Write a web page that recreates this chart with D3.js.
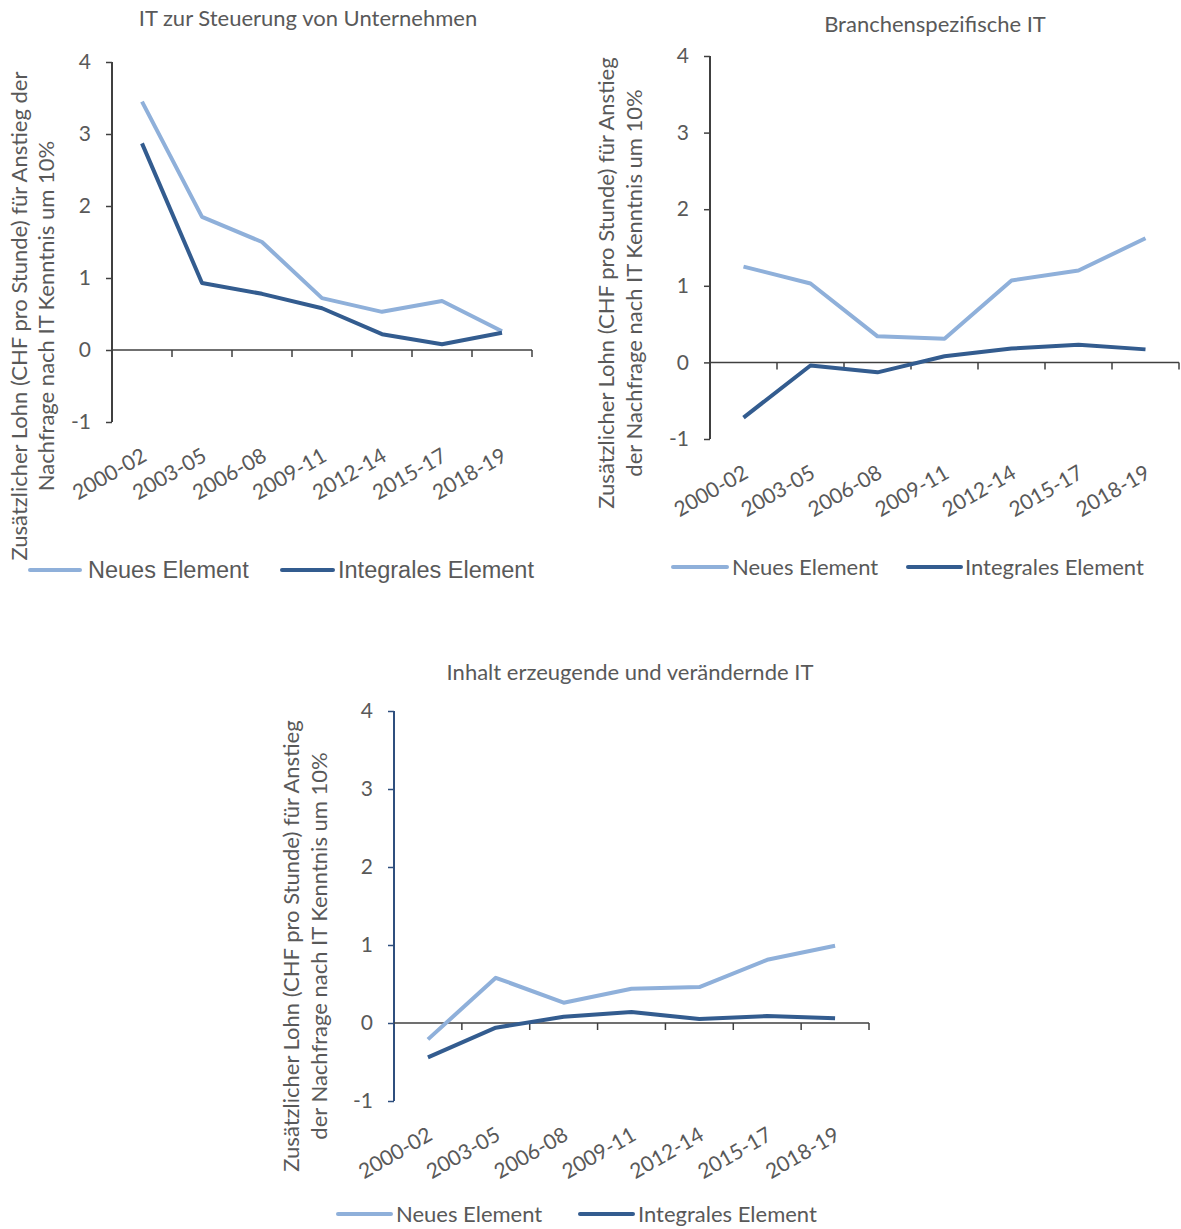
<!DOCTYPE html>
<html>
<head>
<meta charset="utf-8">
<script src="https://cdn.jsdelivr.net/npm/d3@7"></script>
<style>
  body { margin: 0; background: #fff; }
  svg { display: block; }
  text { fill: #595959; }
</style>
</head>
<body>
<svg id="chart" width="1181" height="1229"></svg>
<script>
// categories + series
var periods = ["2000-02", "2003-05", "2006-08", "2009-11", "2012-14", "2015-17", "2018-19"];
var yTicks = [-1, 0, 1, 2, 3, 4];
var seriesNames = ["Neues Element", "Integrales Element"];

var steuerungNeu = [3.45, 1.85, 1.50, 0.72, 0.53, 0.68, 0.26];
var steuerungIntegral = [2.87, 0.93, 0.78, 0.58, 0.22, 0.08, 0.24];

var branchenNeu = [1.25, 1.03, 0.34, 0.31, 1.07, 1.20, 1.62];
var branchenIntegral = [-0.72, -0.04, -0.13, 0.08, 0.18, 0.23, 0.17];

var inhaltNeu = [-0.21, 0.58, 0.26, 0.44, 0.46, 0.81, 0.99];
var inhaltIntegral = [-0.44, -0.06, 0.08, 0.14, 0.05, 0.09, 0.06];

var titles = ["IT zur Steuerung von Unternehmen", "Branchenspezifische IT", "Inhalt erzeugende und verändernde IT"];

var colLight = "#8fb0da", colDark = "#335c8f";
var svg = d3.select("#chart");

// layout for each panel
var panels = [
  { title: titles[0], neu: steuerungNeu, integral: steuerungIntegral,
    x0: 112, x1: 532, yTop: 62, yBot: 422, titleX: 308, titleY: 26,
    yTitle: ["Zusätzlicher Lohn (CHF pro Stunde) für Anstieg der", "Nachfrage nach IT Kenntnis um 10%"],
    yTitleX: [27, 54], yTitleY: 316, yAxisCol: "#404040",
    legend: { y: 570, items: [[30, 80, 88], [282, 333, 338]], font: "Liberation Sans", size: 23.5 } },
  { title: titles[1], neu: branchenNeu, integral: branchenIntegral,
    x0: 710, x1: 1179, yTop: 56, yBot: 439, titleX: 935, titleY: 32,
    yTitle: ["Zusätzlicher Lohn (CHF pro Stunde) für Anstieg", "der Nachfrage nach IT Kenntnis um 10%"],
    yTitleX: [614, 642], yTitleY: 283, yAxisCol: "#404040",
    legend: { y: 567, items: [[673, 727, 732], [908, 961, 965]], font: "Lato", size: 22 } },
  { title: titles[2], neu: inhaltNeu, integral: inhaltIntegral,
    x0: 394, x1: 869, yTop: 711, yBot: 1101, titleX: 630, titleY: 680,
    yTitle: ["Zusätzlicher Lohn (CHF pro Stunde) für Anstieg", "der Nachfrage nach IT Kenntnis um 10%"],
    yTitleX: [299, 327], yTitleY: 946, yAxisCol: "#2f4f7e",
    legend: { y: 1214, items: [[338, 391, 396], [580, 633, 638]], font: "Lato", size: 22 } }
];

panels.forEach(drawPanel);

function drawPanel(p) {
  var g = svg.append("g").style("font-family", "Lato");

  var x = d3.scaleBand().domain(periods).range([p.x0, p.x1]);
  var y = d3.scaleLinear().domain([-1, 4]).range([p.yBot, p.yTop]);
  var cx = function(d, i) { return x(periods[i]) + x.bandwidth() / 2; };

  // title
  g.append("text")
    .attr("x", p.titleX).attr("y", p.titleY)
    .attr("text-anchor", "middle")
    .style("font-size", "22px")
    .text(p.title);

  // y axis
  var yAxis = g.append("g")
    .attr("transform", "translate(" + p.x0 + ",0)")
    .call(d3.axisLeft(y).tickValues(yTicks).tickSize(6).tickPadding(15).tickFormat(function(d) { return String(d); }));
  yAxis.selectAll("path,line").attr("stroke", p.yAxisCol).attr("stroke-width", 1.5);
  yAxis.select(".domain").attr("d", "M0," + y(-1) + "V" + y(4)).attr("stroke-width", 2);
  yAxis.selectAll("text")
    .style("font-family", "Lato").style("font-size", "21px").attr("fill", "#595959");

  // x axis along zero line, ticks between categories
  var xg = g.append("g");
  xg.append("line")
    .attr("x1", p.x0).attr("x2", p.x1)
    .attr("y1", y(0)).attr("y2", y(0))
    .attr("stroke", "#404040").attr("stroke-width", 1.5);
  xg.selectAll(".tk").data(periods).enter().append("line")
    .attr("class", "tk")
    .attr("x1", function(d) { return x(d) + x.bandwidth(); })
    .attr("x2", function(d) { return x(d) + x.bandwidth(); })
    .attr("y1", y(0)).attr("y2", y(0) + 7)
    .attr("stroke", "#404040").attr("stroke-width", 1.5);

  // rotated category labels under the plot
  g.selectAll(".xl").data(periods).enter().append("text")
    .attr("class", "xl")
    .attr("text-anchor", "end")
    .attr("transform", function(d) {
      return "translate(" + (x(d) + x.bandwidth() / 2 + 6) + "," + (p.yBot + 38) + ") rotate(-30)";
    })
    .style("font-size", "21px")
    .text(function(d) { return d; });

  // y axis title, two lines
  p.yTitle.forEach(function(t, i) {
    g.append("text")
      .attr("transform", "translate(" + p.yTitleX[i] + "," + p.yTitleY + ") rotate(-90)")
      .attr("text-anchor", "middle")
      .style("font-size", "22px")
      .text(t);
  });

  // series lines
  var line = d3.line().x(cx).y(function(d) { return y(d); });
  [[p.neu, colLight], [p.integral, colDark]].forEach(function(s) {
    g.append("path")
      .datum(s[0])
      .attr("d", line)
      .attr("fill", "none")
      .attr("stroke", s[1])
      .attr("stroke-width", 4)
      .attr("stroke-linejoin", "round");
  });

  // legend
  var lg = p.legend;
  [colLight, colDark].forEach(function(c, i) {
    var it = lg.items[i];
    g.append("line")
      .attr("x1", it[0]).attr("x2", it[1])
      .attr("y1", lg.y).attr("y2", lg.y)
      .attr("stroke", c).attr("stroke-width", 4).attr("stroke-linecap", "round");
    g.append("text")
      .attr("x", it[2]).attr("y", lg.y + 8)
      .style("font-family", lg.font).style("font-size", lg.size + "px")
      .text(seriesNames[i]);
  });
}
</script>
</body>
</html>
